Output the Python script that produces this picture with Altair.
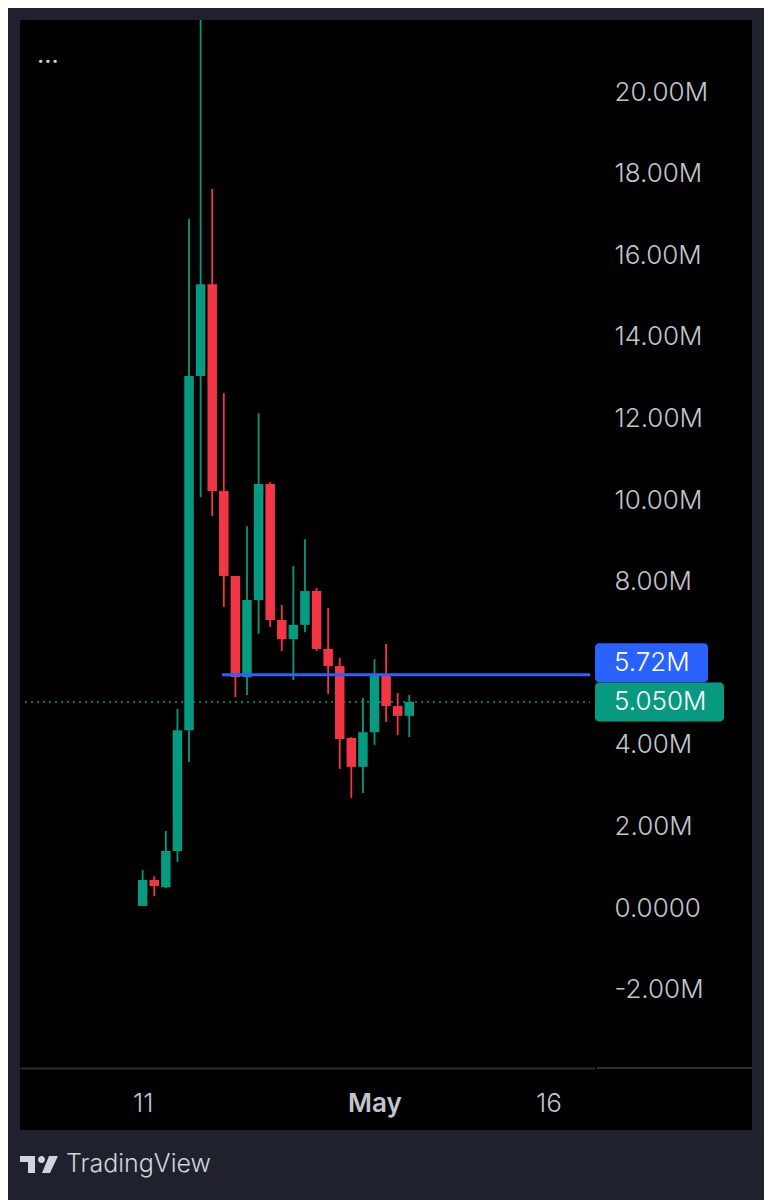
import altair as alt
import pandas as pd

# ---- data (values in millions) ----
day_index = list(range(24))  # 0 = Apr 11, 20 = May 1
opens  = [0.05, 0.69, 0.51, 1.40, 4.36, 13.04, 15.29, 10.22, 8.14, 5.66, 7.55, 10.39,
          7.06, 6.59, 6.94, 7.77, 6.35, 5.93, 4.17, 3.46, 4.31, 5.71, 4.95, 4.71]
highs  = [0.93, 0.78, 1.89, 4.88, 16.89, 22.60, 17.62, 12.62, 8.14, 9.36, 12.13, 10.44,
          7.43, 8.38, 9.04, 7.84, 7.35, 6.13, 4.19, 5.15, 6.10, 6.47, 5.27, 5.22]
lows   = [0.05, 0.29, 0.49, 1.13, 3.58, 10.07, 9.61, 7.38, 5.17, 5.22, 6.72, 6.89,
          6.30, 5.59, 6.76, 6.30, 5.25, 3.41, 2.70, 2.82, 4.00, 4.56, 4.24, 4.19]
closes = [0.69, 0.54, 1.40, 4.36, 13.04, 15.29, 10.22, 8.14, 5.66, 7.55, 10.39, 7.06,
          6.59, 6.94, 7.77, 6.35, 5.93, 4.14, 3.46, 4.31, 5.71, 4.95, 4.71, 5.05]

x_tick_values = [0, 20, 35]
x_tick_labels = ["11", "May", "16"]
y_tick_values = [-2, 0, 2, 4, 8, 10, 12, 14, 16, 18, 20]

last_price = 5.05
last_price_label = "5.050M"
hline_price = 5.72
hline_label = "5.72M"
hline_start = 6.85

x_domain = [-10.15, 38.59]
y_domain = [-3.92, 21.765]

GREEN = "#089981"
RED = "#f23645"
BLUE = "#2962ff"
FRAME = "#1f222d"
LABEL = "#c3c5cc"
FONT = "Inter"
FS = 26

df = pd.DataFrame({"day": day_index, "open": opens, "high": highs, "low": lows, "close": closes})
df["dir"] = ["up" if c >= o else "down" for o, c in zip(opens, closes)]

label_map = " : ".join(
    f"datum.value == {v} ? '{l}'" for v, l in zip(x_tick_values, x_tick_labels)
) + " : ''"

x_axis = alt.Axis(values=x_tick_values, labelExpr=label_map, title=None, ticks=False,
                  grid=False, domainColor="#2a2e39", domainWidth=2, labelPadding=43,
                  labelBaseline="alphabetic", labelFont=FONT, labelFontSize=FS,
                  labelColor=LABEL, zindex=1,
                  labelFontWeight={"condition": {"test": "datum.value == 20", "value": 600},
                                   "value": 300})
y_axis = alt.Axis(values=y_tick_values, orient="right", title=None, ticks=False, grid=False,
                  domain=False, labelAlign="left", labelBaseline="middle", labelPadding=19,
                  labelFont=FONT, labelFontSize=FS, labelColor=LABEL, labelFontWeight=300,
                  zindex=1,
                  labelExpr="datum.value == 0 ? '0.0000' : (datum.value < 0 ? '-' : '') + "
                            "format(abs(datum.value), '.2f') + 'M'")
xs = alt.Scale(domain=x_domain, nice=False, zero=False)
ys = alt.Scale(domain=y_domain, nice=False, zero=False)

one = pd.DataFrame({"k": [0]})

# black panel behind plot and axes
panel = alt.Chart(one).mark_rect(color="#000000").encode(
    x=alt.value(0), x2=alt.value(732), y=alt.value(0), y2=alt.value(1110))
axis_ext = alt.Chart(one).mark_rule(color="#2a2e39", strokeWidth=2).encode(
    x=alt.value(577), x2=alt.value(732), y=alt.value(1048))

base = alt.Chart(df)
color = alt.Color("dir:N", scale=alt.Scale(domain=["up", "down"], range=[GREEN, RED]), legend=None)

price_line = alt.Chart(one).mark_rule(color=GREEN, strokeWidth=1.5, strokeDash=[2, 4]).encode(
    x=alt.X(datum=x_domain[0], scale=xs, axis=x_axis),
    x2=alt.datum(x_domain[1]),
    y=alt.Y(datum=last_price, scale=ys, axis=y_axis))

wicks = base.mark_rule(strokeWidth=1.8, clip=True).encode(
    x=alt.X("day:Q", scale=xs, axis=x_axis),
    y=alt.Y("high:Q", scale=ys, axis=y_axis),
    y2="low:Q",
    color=color)
bodies = base.mark_bar(size=9.5).encode(
    x=alt.X("day:Q", scale=xs, axis=x_axis),
    y=alt.Y("open:Q", scale=ys, axis=y_axis),
    y2="close:Q",
    color=color)

hline = alt.Chart(one).mark_rule(color=BLUE, strokeWidth=3).encode(
    x=alt.X(datum=hline_start, scale=xs, axis=x_axis),
    x2=alt.datum(x_domain[1]),
    y=alt.Y(datum=hline_price, scale=ys, axis=y_axis))

blue_box = alt.Chart(one).mark_rect(color=BLUE, cornerRadius=4, yOffset=-31.5, y2Offset=7.5).encode(
    x=alt.value(575), x2=alt.value(688),
    y=alt.Y(datum=hline_price, scale=ys, axis=y_axis), y2=alt.datum(hline_price))
blue_txt = alt.Chart(one).mark_text(text=hline_label, color="#ffffff", font=FONT, fontSize=FS,
                                    fontWeight=300, align="left", baseline="middle", dy=-12).encode(
    x=alt.value(594), y=alt.Y(datum=hline_price, scale=ys, axis=y_axis))

green_box = alt.Chart(one).mark_rect(color=GREEN, cornerRadius=4, yOffset=-19.5, y2Offset=19.5).encode(
    x=alt.value(575), x2=alt.value(704),
    y=alt.Y(datum=last_price, scale=ys, axis=y_axis), y2=alt.datum(last_price))
green_txt = alt.Chart(one).mark_text(text=last_price_label, color="#ffffff", font=FONT, fontSize=FS,
                                     fontWeight=300, align="left", baseline="middle").encode(
    x=alt.value(594), y=alt.Y(datum=last_price, scale=ys, axis=y_axis))

dots = alt.Chart(one).mark_text(text="...", color="#d1d4dc", font=FONT, fontSize=25,
                                align="left", baseline="alphabetic").encode(
    x=alt.value(17), y=alt.value(42.5))

logo_path = ("M-1,-0.447 L-0.211,-0.447 L-0.211,0.447 L-0.579,0.447 L-0.579,-0.132 L-1,-0.132 Z "
             "M0.316,-0.263 A0.184,0.184 0 1,1 -0.052,-0.263 A0.184,0.184 0 1,1 0.316,-0.263 Z "
             "M0.526,-0.447 L1,-0.447 L0.579,0.447 L0.158,0.447 Z")
logo = alt.Chart(one).mark_point(shape=logo_path, filled=True, size=1444, color="#d1d4dc",
                                 opacity=1, strokeWidth=0).encode(
    x=alt.value(19), y=alt.value(1144.5))
brand = alt.Chart(one).mark_text(text="TradingView", color="#d1d4dc", font=FONT, fontSize=25,
                                 fontWeight=300, align="left", baseline="alphabetic").encode(
    x=alt.value(46), y=alt.value(1152))

chart = alt.layer(
    panel, axis_ext, price_line, wicks, bodies, hline, blue_box, blue_txt,
    green_box, green_txt, dots, logo, brand
).properties(
    width=575, height=1048,
    padding={"left": 12, "top": 12, "right": 169, "bottom": 132},
    autosize=alt.AutoSizeParams(type="none"),
    background=FRAME,
).configure_view(fill="#000000", strokeWidth=0)

chart.save("out.html", embed_options={"renderer": "svg", "actions": False})
